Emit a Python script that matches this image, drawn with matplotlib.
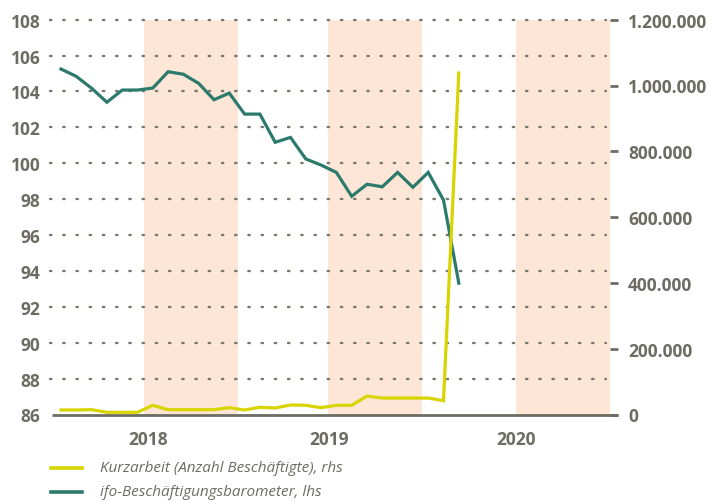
import matplotlib
matplotlib.use("Agg")
import matplotlib.pyplot as plt
from matplotlib.ticker import FuncFormatter, FixedLocator

# ---- data (monthly, Jan 2018 - Mar 2020) ----
months = ["2018-01", "2018-02", "2018-03", "2018-04", "2018-05", "2018-06",
          "2018-07", "2018-08", "2018-09", "2018-10", "2018-11", "2018-12",
          "2019-01", "2019-02", "2019-03", "2019-04", "2019-05", "2019-06",
          "2019-07", "2019-08", "2019-09", "2019-10", "2019-11", "2019-12",
          "2020-01", "2020-02", "2020-03"]
ifo_barometer = [105.25, 104.84, 104.18, 103.40, 104.08, 104.08, 104.19, 105.10,
                 104.96, 104.45, 103.54, 103.91, 102.74, 102.74, 101.17, 101.44,
                 100.24, 99.90, 99.49, 98.16, 98.83, 98.69, 99.49, 98.66,
                 99.49, 97.95, 93.32]
kurzarbeit = [13700, 13700, 14600, 6700, 6700, 6700, 28000, 14600,
              14600, 14600, 14600, 20700, 13700, 21900, 19800, 28900,
              28000, 20700, 28000, 28000, 56000, 50000, 50000, 50000,
              50000, 42000, 1038000]
year_labels = ["2018", "2019", "2020"]
left_ticks = [86, 88, 90, 92, 94, 96, 98, 100, 102, 104, 106, 108]
right_ticks = [0, 200000, 400000, 600000, 800000, 1000000, 1200000]
legend_labels = ["Kurzarbeit (Anzahl Beschäftigte), rhs",
                 "ifo-Beschäftigungsbarometer, lhs"]

# ---- style ----
GREEN = "#2b7a6b"
YELLOW = "#d8d400"
BAND = "#fde6d6"
TXT = "#6c6c63"
FONT = "Open Sans"

W, H = 713, 502
fig = plt.figure(figsize=(W / 100, H / 100), dpi=100)
L, R, T, B = 51.7, 610.0, 20.7, 415.5
ax = fig.add_axes([L / W, 1 - B / H, (R - L) / W, (B - T) / H])
ax2 = ax.twinx()

x = list(range(len(months)))
x0, dx = 61.0, 15.3
def px2x(p):
    return (p - x0) / dx

ax.set_xlim(px2x(L), px2x(R))
ax.set_ylim(86, 108)
ax2.set_ylim(0, 1200000)

# half-year shaded bands
for s, e in [(144, 238), (328, 422), (516, 610)]:
    ax.axvspan(px2x(s), px2x(e), color=BAND, lw=0, zorder=0)

# dotted grid
for v in left_ticks[1:]:
    ax.plot([px2x(50), px2x(606)], [v, v], ls=(0, (0.6, 5.0)), lw=1.7,
            color="#77776d", dash_capstyle="round", zorder=1, clip_on=False)

ax.plot(x, ifo_barometer, color=GREEN, lw=2.3, zorder=3, solid_joinstyle="miter")
ax2.plot(x, kurzarbeit, color=YELLOW, lw=2.3, zorder=3, solid_joinstyle="miter")

for a in (ax, ax2):
    for sp in a.spines.values():
        sp.set_visible(False)
    a.set_xticks([])
ax.patch.set_visible(False)

# bottom axis line
ax.plot([px2x(L), px2x(618)], [86, 86], color=TXT, lw=2.0, zorder=5,
        clip_on=False, solid_capstyle="butt")

# left ticks
ax.yaxis.set_major_locator(FixedLocator(left_ticks))
ax.tick_params(axis="y", length=0, pad=8, labelsize=12.5, labelcolor=TXT)
for t in ax.get_yticklabels():
    t.set_fontfamily(FONT)
    t.set_fontweight("bold")

# right ticks
ax2.yaxis.set_major_locator(FixedLocator(right_ticks))
ax2.yaxis.set_major_formatter(FuncFormatter(lambda v, p: f"{int(v):,}".replace(",", ".")))
ax2.tick_params(axis="y", length=6, width=2, color=TXT, pad=7, labelsize=12.5,
                labelcolor=TXT)
for t in ax2.get_yticklabels():
    t.set_fontfamily(FONT)
    t.set_fontweight("bold")

# year labels
for lab, p in zip(year_labels, [148.3, 329.5, 515.8]):
    fig.text(p / W, 1 - 440 / H, lab, ha="center", va="center", fontsize=12.5,
             color=TXT, fontfamily=FONT, fontweight="bold")

# legend
for lab, col, yy in zip(legend_labels, [YELLOW, GREEN], [469, 493]):
    fig.add_artist(plt.Line2D([51 / W, 82 / W], [1 - yy / H, 1 - yy / H],
                              color=col, lw=2.6, transform=fig.transFigure))
    fig.text(100 / W, 1 - yy / H, lab, ha="left", va="center", fontsize=11,
             color=TXT, fontfamily=FONT, fontstyle="italic")

fig.savefig("out.png", dpi=100)
